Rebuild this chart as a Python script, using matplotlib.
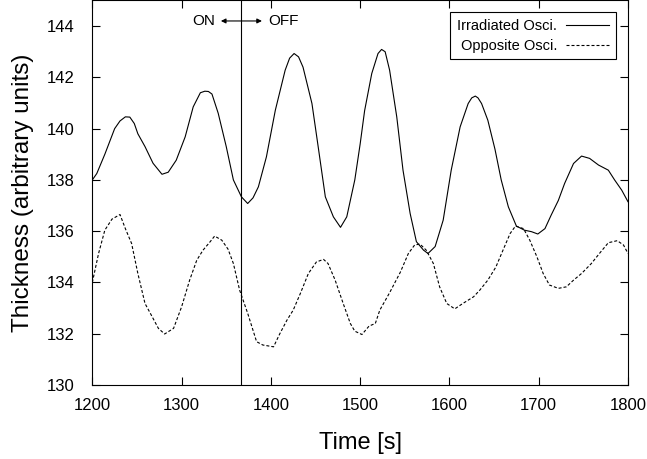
import matplotlib
matplotlib.use("Agg")
import matplotlib.pyplot as plt

plt.rcParams['font.family'] = ['Liberation Sans', 'DejaVu Sans']

# Irradiated oscillator (solid)
irr_t = [1200, 1205, 1214, 1225, 1231, 1237, 1242, 1247, 1251, 1259, 1268, 1278, 1285, 1294,
         1304, 1313, 1321, 1326, 1330, 1334, 1341, 1350, 1358, 1367, 1374, 1380, 1386, 1395,
         1405, 1416, 1421, 1426, 1431, 1436, 1446, 1453, 1461, 1470, 1478, 1485, 1494, 1500,
         1505, 1513, 1520, 1524, 1528, 1533, 1541, 1548, 1556, 1563, 1571, 1576,
         1584, 1593, 1602, 1612, 1621, 1625, 1629, 1632, 1636, 1643, 1651, 1658, 1666, 1675,
         1684, 1692, 1699, 1707, 1714, 1722, 1729, 1739, 1748, 1757, 1767, 1778,
         1785, 1793, 1800]
irr_y = [138.0, 138.25, 139.0, 140.0, 140.3, 140.46, 140.45, 140.2, 139.8, 139.3, 138.65, 138.22, 138.3, 138.77,
         139.68, 140.85, 141.4, 141.46, 141.45, 141.35, 140.6, 139.3, 138.0, 137.34, 137.08, 137.3, 137.73, 138.9,
         140.72, 142.28, 142.75, 142.93, 142.8, 142.4, 140.98, 139.29, 137.34, 136.56, 136.15, 136.56, 138.0, 139.4,
         140.7, 142.15, 142.93, 143.09, 143.0, 142.28, 140.46, 138.38, 136.69, 135.59, 135.26, 135.13,
         135.4, 136.43, 138.38, 140.07, 140.98, 141.2, 141.27, 141.2, 140.98, 140.33, 139.2, 138.0, 136.95, 136.2,
         136.04, 135.98, 135.89, 136.1, 136.63, 137.2, 137.86, 138.64, 138.93, 138.84, 138.58, 138.38,
         138.0, 137.6, 137.15]

# Opposite oscillator (dashed)
opp_t = [1200, 1207, 1214, 1222, 1231, 1237, 1244, 1251, 1259, 1266, 1274, 1281,
         1291, 1300, 1309, 1317, 1324, 1332, 1337, 1345, 1352, 1358, 1365, 1374,
         1384, 1391, 1403, 1410, 1418, 1425, 1433, 1442, 1451, 1459, 1464, 1472,
         1481, 1489, 1494, 1502, 1510, 1517, 1522, 1533, 1545, 1554, 1561, 1567,
         1574, 1582, 1589, 1597, 1606, 1615, 1627, 1634, 1643, 1652, 1660, 1668,
         1674, 1683, 1690, 1698, 1705, 1712, 1722, 1731, 1739, 1748, 1759, 1768,
         1778, 1788, 1795, 1800]
opp_y = [134.0, 135.13, 136.04, 136.47, 136.65, 136.1, 135.52, 134.35, 133.18, 132.73, 132.21, 131.99,
         132.21, 133.05, 134.09, 134.87, 135.26, 135.59, 135.81, 135.65, 135.3, 134.74, 133.7, 132.8,
         131.69, 131.56, 131.49, 132.0, 132.53, 132.92, 133.57, 134.35, 134.8, 134.9, 134.74, 134.09,
         133.18, 132.4, 132.1, 131.97, 132.3, 132.4, 132.92, 133.6, 134.4, 135.13, 135.46, 135.5,
         135.26, 134.74, 133.83, 133.18, 132.97, 133.18, 133.44, 133.7, 134.09, 134.6, 135.26, 135.91,
         136.2, 136.1, 135.65, 135.0, 134.35, 133.9, 133.77, 133.83, 134.09, 134.35, 134.74, 135.13,
         135.55, 135.63, 135.46, 135.13]

switch_t = 1367

fig = plt.figure(figsize=(6.47, 4.59), dpi=100)
ax = fig.add_axes([0.1427, 0.1612, 0.8279, 0.8378])

ax.plot(irr_t, irr_y, color='black', lw=0.8, label='Irradiated Osci.')
ax.plot(opp_t, opp_y, color='black', lw=0.8, linestyle=(0, (2.7, 1.8)), label='Opposite Osci.')
ax.axvline(switch_t, color='black', lw=0.8)

# ON <-> OFF marker
ax.annotate('', xy=(1344, 144.2), xytext=(1390, 144.2),
            arrowprops=dict(arrowstyle='<|-|>', color='black', lw=0.8,
                            mutation_scale=7, shrinkA=0, shrinkB=0))
ax.text(1338, 144.2, 'ON', ha='right', va='center', fontsize=11)
ax.text(1397, 144.2, 'OFF', ha='left', va='center', fontsize=11)

ax.set_xlim(1200, 1800)
ax.set_ylim(130, 145)
ax.set_xticks(range(1200, 1801, 100))
ax.set_yticks(range(130, 145, 2))
ax.tick_params(direction='in', length=6, width=0.8, top=True, right=True,
               labelsize=12)
ax.tick_params(axis='x', pad=9)
ax.tick_params(axis='y', pad=13)
for s in ax.spines.values():
    s.set_linewidth(0.8)

ax.set_xlabel('Time [s]', fontsize=17, labelpad=14)
ax.set_ylabel('Thickness (arbitrary units)', fontsize=17.5, labelpad=9)

leg = ax.legend(loc='upper right', bbox_to_anchor=(0.9776, 0.9688), markerfirst=False,
                fontsize=10.5, handlelength=3.0, fancybox=False, framealpha=1,
                edgecolor='black', alignment='right', borderpad=0.45,
                labelspacing=0.4, handletextpad=0.6, borderaxespad=0)
leg.get_frame().set_linewidth(0.8)

fig.savefig('out.png', dpi=100)
